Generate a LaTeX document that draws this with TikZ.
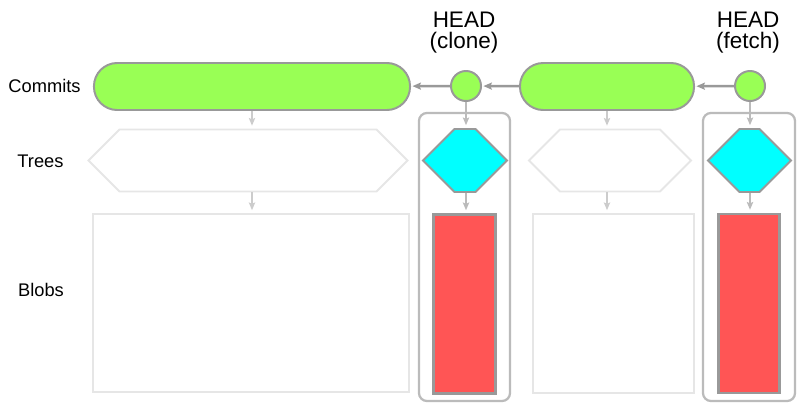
\documentclass[tikz,border=0pt]{standalone}
\usepackage{fontspec}
\setmainfont{Liberation Sans}
\usetikzlibrary{arrows.meta,shapes.symbols}
\definecolor{commitgreen}{HTML}{99FF55}
\definecolor{treecyan}{HTML}{00FFFF}
\definecolor{blobred}{HTML}{FF5555}
\definecolor{edgegray}{HTML}{999999}
\definecolor{boxgray}{HTML}{BBBBBB}
\definecolor{ghostgray}{HTML}{E6E6E6}
\definecolor{ghostarrow}{HTML}{CCCCCC}
\begin{document}
\begin{tikzpicture}[x=0.025cm,y=-0.025cm]
\tikzstyle{every node}+=[inner sep=0pt]
\tikzstyle{commit}=[draw=edgegray, fill=commitgreen, line width=1.4pt, rounded corners=0.58cm, minimum height=1.175cm]
\tikzstyle{head}=[circle, draw=edgegray, fill=commitgreen, line width=1.4pt, minimum size=0.75cm]
\tikzstyle{tree}=[signal, signal to=east and west, signal pointer angle=90, line width=1.4pt, minimum height=1.55cm]
\tikzstyle{ghost}=[draw=ghostgray, line width=1.4pt]
\tikzstyle{blob}=[draw=edgegray, fill=blobred, line width=2pt, minimum width=1.55cm, minimum height=4.475cm]
\tikzstyle{group}=[draw=boxgray, line width=1.6pt, rounded corners=0.2cm, minimum width=2.275cm, minimum height=7.2cm]
\tikzstyle{label}=[font=\fontsize{13}{15}\selectfont]
\tikzstyle{headlabel}=[font=\fontsize{16}{15}\selectfont, align=center]
\tikzstyle{link}=[draw=edgegray, line width=1.8pt, -{Stealth[length=6pt,width=5pt,inset=1pt]}, shorten >=1pt]
\tikzstyle{down}=[draw=ghostarrow, line width=1.3pt, -{Stealth[length=5.5pt,width=4.5pt,inset=1pt]}, shorten >=2pt]
\tikzstyle{headdown}=[draw=boxgray, line width=1.4pt, -{Stealth[length=5.5pt,width=4.5pt,inset=1pt]}, shorten >=2pt]
\useasboundingbox (0,0) rectangle (800,414);
\node [group] (gclone) at (464.5,257) {};
\node [group, minimum width=2.3cm] (gfetch) at (749,257) {};
\node [label] (lcommits) at (44.5,86) {Commits};
\node [label] (ltrees) at (40.5,161) {Trees};
\node [label] (lblobs) at (41,290) {Blobs};
\node [headlabel] (hclone) at (464,33) {HEAD\\(clone)};
\node [headlabel] (hfetch) at (748,33) {HEAD\\(fetch)};
\node [commit, minimum width=7.9cm] (old) at (252,86.5) {};
\node [head] (clone) at (466,86) {};
\node [commit, minimum width=4.35cm] (new) at (607,86.5) {};
\node [head] (fetch) at (750,86) {};
\node [tree, ghost, minimum width=7.975cm] (oldtree) at (248,160.5) {};
\node [tree, ghost, minimum width=4.05cm] (newtree) at (610,160.5) {};
\node [tree, draw=edgegray, fill=treecyan, minimum width=2.1cm, minimum height=1.575cm] (clonetree) at (465,160.5) {};
\node [tree, draw=edgegray, fill=treecyan, minimum width=2.075cm, minimum height=1.575cm] (fetchtree) at (749.5,160.5) {};
\node [ghost, minimum width=7.9cm, minimum height=4.45cm] (oldblob) at (251,303) {};
\node [ghost, minimum width=4.025cm, minimum height=4.475cm] (newblob) at (613.5,303.5) {};
\node [blob] (cloneblob) at (464.5,304) {};
\node [blob, minimum width=1.525cm] (fetchblob) at (749,303.5) {};
\draw [link] (clone) -- (old);
\draw [link] (new) -- (clone);
\draw [link] (fetch) -- (new);
\draw [down] (old.south) -- (old.south |- oldtree.north);
\draw [down] (oldtree.south -| old.south) -- (oldblob.north -| old.south);
\draw [down] (new.south) -- (new.south |- newtree.north);
\draw [down] (newtree.south -| new.south) -- (newblob.north -| new.south);
\draw [headdown] (clone) -- (clone |- clonetree.north);
\draw [headdown] (clonetree.south -| clone) -- (cloneblob.north -| clone);
\draw [headdown] (fetch) -- (fetch |- fetchtree.north);
\draw [headdown] (fetchtree.south -| fetch) -- (fetchblob.north -| fetch);
\end{tikzpicture}
\end{document}
